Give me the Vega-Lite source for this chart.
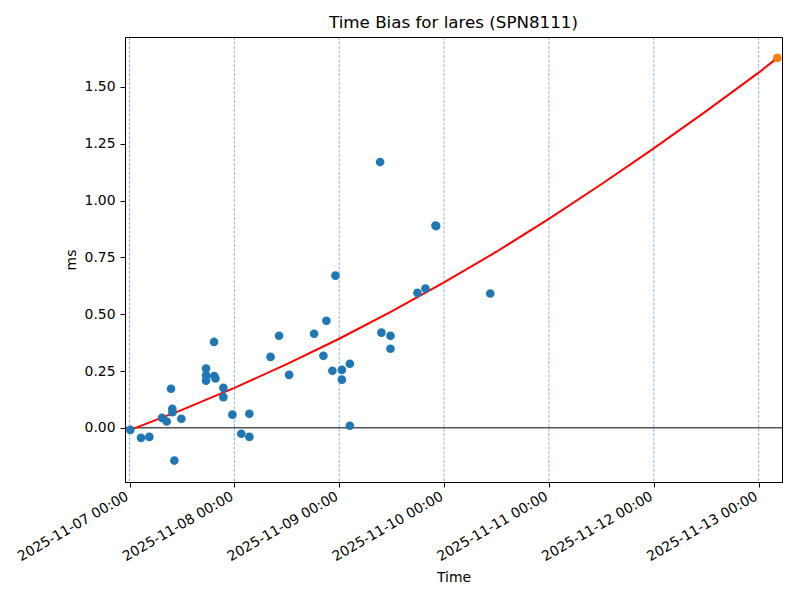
{
  "$schema": "https://vega.github.io/schema/vega-lite/v6.json",
  "width": 657,
  "height": 445,
  "autosize": {"type": "none"},
  "padding": {"left": 125, "top": 37, "right": 18, "bottom": 118},
  "background": "white",
  "title": {
    "text": "Time Bias for lares (SPN8111)",
    "font": "DejaVu Sans",
    "fontSize": 16.7,
    "fontWeight": "normal",
    "color": "black",
    "anchor": "middle",
    "offset": 5
  },
  "config": {
    "view": {"stroke": "black", "strokeWidth": 1},
    "font": "DejaVu Sans",
    "axis": {
      "labelFont": "DejaVu Sans",
      "titleFont": "DejaVu Sans",
      "labelFontSize": 13.9,
      "titleFontSize": 13.9,
      "titleFontWeight": "normal",
      "labelColor": "black",
      "titleColor": "black",
      "tickColor": "black",
      "domainColor": "black",
      "tickSize": 5,
      "labelPadding": 5,
      "grid": false,
      "domainWidth": 1,
      "tickWidth": 1
    }
  },
  "datasets": {
    "obs": [
      {"t": "2025-11-07T00:11:00Z", "v": -0.009},
      {"t": "2025-11-07T02:38:00Z", "v": -0.044},
      {"t": "2025-11-07T04:32:00Z", "v": -0.040},
      {"t": "2025-11-07T07:27:00Z", "v": 0.044},
      {"t": "2025-11-07T08:31:00Z", "v": 0.028},
      {"t": "2025-11-07T09:30:00Z", "v": 0.172},
      {"t": "2025-11-07T09:48:00Z", "v": 0.084},
      {"t": "2025-11-07T09:50:00Z", "v": 0.069},
      {"t": "2025-11-07T10:16:00Z", "v": -0.144},
      {"t": "2025-11-07T11:52:00Z", "v": 0.040},
      {"t": "2025-11-07T17:31:00Z", "v": 0.261},
      {"t": "2025-11-07T17:31:00Z", "v": 0.231},
      {"t": "2025-11-07T17:31:00Z", "v": 0.208},
      {"t": "2025-11-07T19:21:00Z", "v": 0.378},
      {"t": "2025-11-07T19:23:00Z", "v": 0.228},
      {"t": "2025-11-07T19:40:00Z", "v": 0.217},
      {"t": "2025-11-07T21:29:00Z", "v": 0.176},
      {"t": "2025-11-07T21:29:00Z", "v": 0.135},
      {"t": "2025-11-07T23:33:00Z", "v": 0.058},
      {"t": "2025-11-08T01:35:00Z", "v": -0.026},
      {"t": "2025-11-08T03:26:00Z", "v": -0.040},
      {"t": "2025-11-08T03:26:00Z", "v": 0.062},
      {"t": "2025-11-08T08:17:00Z", "v": 0.312},
      {"t": "2025-11-08T10:14:00Z", "v": 0.405},
      {"t": "2025-11-08T12:32:00Z", "v": 0.233},
      {"t": "2025-11-08T18:15:00Z", "v": 0.414},
      {"t": "2025-11-08T20:23:00Z", "v": 0.317},
      {"t": "2025-11-08T21:04:00Z", "v": 0.471},
      {"t": "2025-11-08T22:26:00Z", "v": 0.251},
      {"t": "2025-11-08T23:08:00Z", "v": 0.670},
      {"t": "2025-11-09T00:36:00Z", "v": 0.255},
      {"t": "2025-11-09T00:36:00Z", "v": 0.212},
      {"t": "2025-11-09T02:26:00Z", "v": 0.282},
      {"t": "2025-11-09T02:26:00Z", "v": 0.009},
      {"t": "2025-11-09T09:22:00Z", "v": 1.170},
      {"t": "2025-11-09T09:40:00Z", "v": 0.419},
      {"t": "2025-11-09T11:44:00Z", "v": 0.405},
      {"t": "2025-11-09T11:44:00Z", "v": 0.348},
      {"t": "2025-11-09T17:54:00Z", "v": 0.594},
      {"t": "2025-11-09T19:44:00Z", "v": 0.613},
      {"t": "2025-11-09T22:02:00Z", "v": 0.890},
      {"t": "2025-11-09T22:12:00Z", "v": 0.888},
      {"t": "2025-11-10T10:34:00Z", "v": 0.591}
    ],
    "fit": [
      {"t": "2025-11-07T00:11:00Z", "v": -0.009},
      {"t": "2025-11-07T12:00:00Z", "v": 0.079},
      {"t": "2025-11-08T00:00:00Z", "v": 0.176},
      {"t": "2025-11-08T12:00:00Z", "v": 0.280},
      {"t": "2025-11-09T00:00:00Z", "v": 0.392},
      {"t": "2025-11-09T12:00:00Z", "v": 0.512},
      {"t": "2025-11-10T00:00:00Z", "v": 0.640},
      {"t": "2025-11-10T12:00:00Z", "v": 0.775},
      {"t": "2025-11-11T00:00:00Z", "v": 0.920},
      {"t": "2025-11-11T12:00:00Z", "v": 1.072},
      {"t": "2025-11-12T00:00:00Z", "v": 1.230},
      {"t": "2025-11-12T12:00:00Z", "v": 1.394},
      {"t": "2025-11-13T00:00:00Z", "v": 1.563},
      {"t": "2025-11-13T04:17:00Z", "v": 1.628}
    ],
    "pred": [
      {"t": "2025-11-13T04:17:00Z", "v": 1.628}
    ],
    "days": [
      {"t": "2025-11-07T00:00:00Z"},
      {"t": "2025-11-08T00:00:00Z"},
      {"t": "2025-11-09T00:00:00Z"},
      {"t": "2025-11-10T00:00:00Z"},
      {"t": "2025-11-11T00:00:00Z"},
      {"t": "2025-11-12T00:00:00Z"},
      {"t": "2025-11-13T00:00:00Z"}
    ]
  },
  "layer": [
    {
      "data": {"name": "days"},
      "mark": {"type": "rule", "color": "#1f77b4", "opacity": 0.75, "strokeWidth": 0.7, "strokeDash": [3, 1.5]},
      "encoding": {
        "x": {
          "field": "t", "type": "temporal",
          "scale": {"type": "utc", "domain": [{"year": 2025, "month": 11, "date": 6, "hours": 22, "minutes": 58, "utc": true}, {"year": 2025, "month": 11, "date": 13, "hours": 5, "minutes": 21, "utc": true}], "nice": false},
          "axis": {
            "title": "Time",
            "labelExpr": "utcFormat(datum.value, '%Y-%m-%d %H:%M')",
            "values": [
              {"year": 2025, "month": 11, "date": 7, "utc": true},
              {"year": 2025, "month": 11, "date": 8, "utc": true},
              {"year": 2025, "month": 11, "date": 9, "utc": true},
              {"year": 2025, "month": 11, "date": 10, "utc": true},
              {"year": 2025, "month": 11, "date": 11, "utc": true},
              {"year": 2025, "month": 11, "date": 12, "utc": true},
              {"year": 2025, "month": 11, "date": 13, "utc": true}
            ],
            "labelAngle": -30,
            "labelAlign": "right",
            "labelBaseline": "top",
            "labelOffset": -6,
            "labelPadding": 2,
            "labelOverlap": false,
            "labelFlush": false,
            "labelBound": false,
            "titlePadding": 7
          }
        }
      }
    },
    {
      "data": {"name": "pred"},
      "mark": {"type": "rule", "color": "black", "strokeWidth": 1},
      "encoding": {
        "y": {
          "datum": 0, "type": "quantitative",
          "scale": {"domain": [-0.2384, 1.72], "nice": false, "zero": false},
          "axis": {
            "title": "ms",
            "values": [0, 0.25, 0.5, 0.75, 1.0, 1.25, 1.5],
            "format": ".2f",
            "titlePadding": 6
          }
        }
      }
    },
    {
      "data": {"name": "fit"},
      "mark": {"type": "line", "color": "red", "strokeWidth": 2},
      "encoding": {
        "x": {"field": "t", "type": "temporal"},
        "y": {"field": "v", "type": "quantitative"}
      }
    },
    {
      "data": {"name": "obs"},
      "mark": {"type": "point", "filled": true, "color": "#1f77b4", "opacity": 1, "size": 75},
      "encoding": {
        "x": {"field": "t", "type": "temporal"},
        "y": {"field": "v", "type": "quantitative"}
      }
    },
    {
      "data": {"name": "pred"},
      "mark": {"type": "point", "filled": true, "color": "#ff7f0e", "opacity": 1, "size": 75},
      "encoding": {
        "x": {"field": "t", "type": "temporal"},
        "y": {"field": "v", "type": "quantitative"}
      }
    }
  ]
}
